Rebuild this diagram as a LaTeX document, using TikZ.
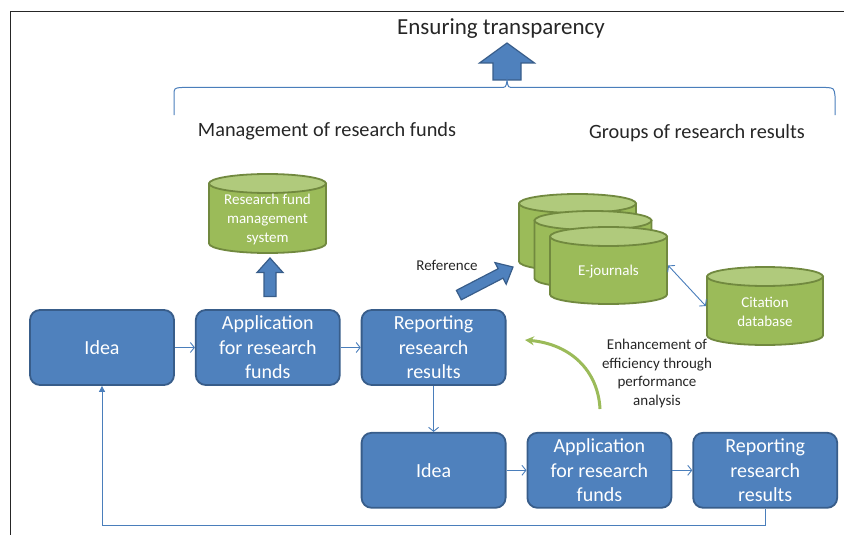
\documentclass[tikz,border=0pt]{standalone}
\usepackage{fontspec}
\setmainfont{Carlito}
\usepackage{tikz}
\usetikzlibrary{shapes,positioning}
\usetikzlibrary{calc}
\usetikzlibrary{arrows.meta}
\definecolor{boxblue}{HTML}{4F81BD}
\definecolor{boxedge}{HTML}{385D8A}
\definecolor{dbgreen}{HTML}{9BBB59}
\definecolor{dbedge}{HTML}{71893F}
\definecolor{dbtop}{HTML}{B0CA7C}
\definecolor{linkblue}{HTML}{4A7EBB}
\definecolor{txtgray}{HTML}{262626}
\newcommand{\dbpad}{\rule{0pt}{22pt}}
\tikzset{
	procbox/.style={draw=boxedge,line width=1.8pt,fill=boxblue,rounded corners=10pt,
		minimum width=144pt,minimum height=75pt,text=white,align=center,
		font=\fontsize{20}{24.5}\selectfont},
	% cylindre dessine dans le rectangle du noeud
	dbase/.style={rectangle,inner sep=0pt,text=white,align=center,
		font=\fontsize{15}{19}\selectfont,
		path picture={
			\path ([shift={(1pt,-1pt)}]path picture bounding box.north west) coordinate (cnw)
				([shift={(-1pt,1pt)}]path picture bounding box.south east) coordinate (cse);
			\filldraw[fill=dbgreen,draw=dbedge,line width=1.8pt] let \p1=(cnw), \p2=(cse) in
				(\x1,\y1-9.5pt) -- (\x1,\y2+9.5pt)
				arc[start angle=180,end angle=360,x radius={(\x2-\x1)/2},y radius=9.5pt]
				-- (\x2,\y1-9.5pt) -- cycle;
			\filldraw[fill=dbtop,draw=dbedge,line width=1.8pt] let \p1=(cnw), \p2=(cse) in
				({(\x1+\x2)/2},\y1-9.5pt) ellipse[x radius={(\x2-\x1)/2},y radius=9.5pt];
		}},
	link/.style={draw=linkblue,line width=0.9pt},
	lbl/.style={text=txtgray,align=center},
	pics/fatarrow/.style args={#1/#2/#3/#4}{code={
		\filldraw[fill=boxblue,draw=boxedge,line width=1.2pt,line join=miter]
			(0,0) -- (-#2,#4) -- (-#2,#3) -- (-#1,#3) -- (-#1,-#3) -- (-#2,-#3) -- (-#2,-#4) -- cycle;
	}}
}

\begin{document}
\begin{tikzpicture}[x=1pt,y=-1pt]
\useasboundingbox (0,0) rectangle (844,535);

%Cadre
\draw[line width=1.5pt,black!85] (10.5,535) -- (10.5,11.5) -- (844,11.5);

%Titre et accolade
\node[lbl,font=\fontsize{23}{27}\selectfont] (title) at (501,29) {Ensuring transparency};
\pic[rotate=90] at (507,43) {fatarrow=37/20/14/27.5};
\draw[link,line width=1pt] (174,115) -- (174,96) .. controls (174,88) .. (182,87.5)
	-- (500,87.5) .. controls (506,87.5) .. (507,80) .. controls (508,87.5) .. (514,87.5)
	-- (826,87.5) .. controls (834,88) .. (835,96) -- (835,115);
\node[lbl,font=\fontsize{20.3}{24}\selectfont] (funds) at (327,131) {Management of research funds};
\node[lbl,font=\fontsize{20.3}{24}\selectfont] (groups) at (697,133) {Groups of research results};

%Bases de donnees
\node[dbase,minimum width=119pt,minimum height=81pt] (fundsys) at (267.5,213.5) {\dbpad Research fund\\management\\system};
\node[dbase,minimum width=119pt,minimum height=79pt] (ejA) at (577.5,232.5) {};
\node[dbase,minimum width=119pt,minimum height=79pt] (ejB) at (593,249.5) {};
\node[dbase,minimum width=119pt,minimum height=79pt] (ejC) at (608.5,265.5) {\dbpad E-journals};
\node[dbase,minimum width=118pt,minimum height=80pt] (cite) at (765,306) {\dbpad Citation\\database};

%Premier cycle
\node[procbox] (idea1) at (102,347.5) {Idea};
\node[procbox,right=20pt of idea1] (apply1) {Application\\for research\\funds};
\node[procbox,right=20pt of apply1] (report1) {Reporting\\research\\results};

%Second cycle
\node[procbox,below=46pt of report1] (idea2) {Idea};
\node[procbox,right=20pt of idea2] (apply2) {Application\\for research\\funds};
\node[procbox,right=20pt of apply2] (report2) {Reporting\\research\\results};

%Fleches
\draw[link,-{Straight Barb[length=4pt,width=10pt]}] (idea1) -- (apply1);
\draw[link,-{Straight Barb[length=4pt,width=10pt]}] (apply1) -- (report1);
\draw[link,-{Straight Barb[length=4pt,width=10pt]}] (report1) -- (idea2);
\draw[link,-{Straight Barb[length=4pt,width=10pt]}] (idea2) -- (apply2);
\draw[link,-{Straight Barb[length=4pt,width=10pt]}] (apply2) -- (report2);
\draw[link,-{Triangle[length=6pt,width=6pt]}] (report2.south) -- ++(0,17) -| (idea1.south);
\draw[link,{Straight Barb[length=4pt,width=10pt]}-{Straight Barb[length=4pt,width=10pt]}] (ejC.east) -- (cite.west);

\pic[rotate=90] at (270,258) {fatarrow=38.5/14.5/6/13};
\pic[rotate=27.4] at (513,267) {fatarrow=61/14/5.3/12.2};
\node[lbl,font=\fontsize{15}{19}\selectfont] (ref) at (447,265) {Reference};

%Performance
\coordinate (effS) at (600,409);
\coordinate (effE) at (525,340);
\draw[dbgreen,line width=3pt,-{Stealth[length=9pt,width=9pt]}] (effS) .. controls (598,370) and (570,344) .. (effE);
\node[lbl,font=\fontsize{15}{18.5}\selectfont] (eff) at (657,373.5) {Enhancement of\\efficiency through\\performance\\analysis};

\end{tikzpicture}
\end{document}
